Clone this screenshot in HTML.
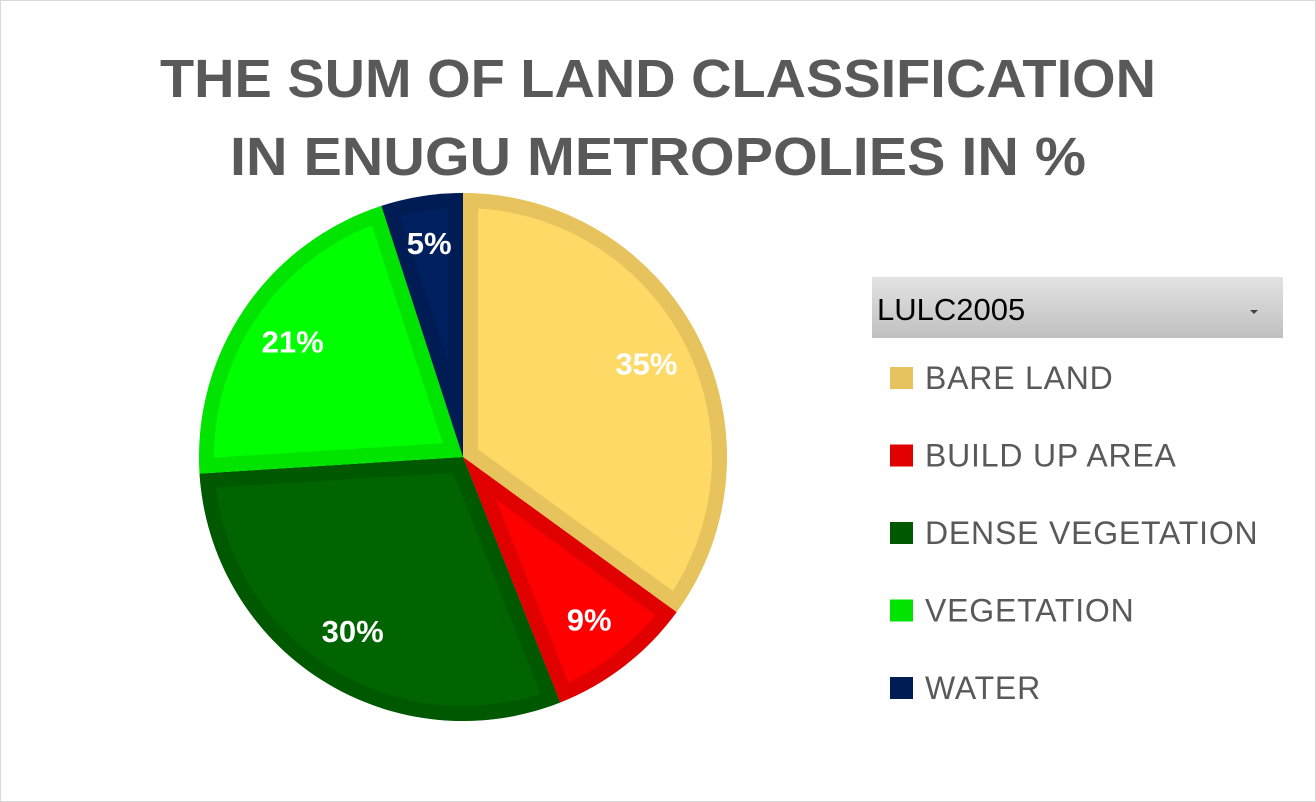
<!DOCTYPE html>
<html><head><meta charset="utf-8"><style>
html,body{margin:0;padding:0;background:#fff;}
svg{display:block;font-family:"Liberation Sans",sans-serif;}
</style></head><body>
<svg id="chart" width="1316" height="802" viewBox="0 0 1316 802">
<rect x="0.5" y="0.5" width="1315" height="801" fill="#fff" stroke="#d9d9d9"/>
<text x="658" y="97" text-anchor="middle" font-size="54" font-weight="bold" fill="#595959" textLength="996" lengthAdjust="spacingAndGlyphs">THE SUM OF LAND CLASSIFICATION</text>
<text x="658" y="175" text-anchor="middle" font-size="54" font-weight="bold" fill="#595959" textLength="856" lengthAdjust="spacingAndGlyphs">IN ENUGU METROPOLIES IN %</text>
<defs>
<linearGradient id="dd" x1="0" y1="0" x2="0" y2="1"><stop offset="0" stop-color="#e3e3e3"/><stop offset="1" stop-color="#c0c0c0"/></linearGradient>
</defs>
<g>
<rect x="872" y="277" width="411" height="61" fill="url(#dd)"/>
<text x="877" y="320" font-size="31" fill="#000">LULC2005</text>
<path d="M1250 310 L1258 310 L1254 314 Z" fill="#404040"/>
</g>
<g id="slices"></g>
<g id="labels"></g>
<g id="legend"></g>
</svg>
<script>
const categories = ["BARE LAND","BUILD UP AREA","DENSE VEGETATION","VEGETATION","WATER"];
const values = [35, 9, 30, 21, 5];
const labels = ["35%","9%","30%","21%","5%"];
const fills = ["#FFD966","#FF0000","#006400","#00FF00","#002060"];
const edges = ["#E6C35C","#E00000","#005800","#00E400","#001C55"];
const NS="http://www.w3.org/2000/svg";
const cx=463, cy=457, r=264;
const total=values.reduce((a,b)=>a+b,0);
const sg=document.getElementById('slices'), lg=document.getElementById('labels'), leg=document.getElementById('legend');
const defs=document.querySelector('defs');
function pt(a,rr){return [cx+rr*Math.sin(a), cy-rr*Math.cos(a)];}
let acc=0;
values.forEach((v,i)=>{
  const a0=acc/total*2*Math.PI; acc+=v; const a1=acc/total*2*Math.PI;
  const p0=pt(a0,r), p1=pt(a1,r);
  const d=`M${cx} ${cy} L${p0[0]} ${p0[1]} A${r} ${r} 0 ${a1-a0>Math.PI?1:0} 1 ${p1[0]} ${p1[1]} Z`;
  const cp=document.createElementNS(NS,'clipPath'); cp.setAttribute('id','c'+i);
  const cpp=document.createElementNS(NS,'path'); cpp.setAttribute('d',d); cp.appendChild(cpp); defs.appendChild(cp);
  const p=document.createElementNS(NS,'path');
  p.setAttribute('d',d); p.setAttribute('fill',fills[i]); p.setAttribute('stroke',edges[i]);
  p.setAttribute('stroke-width','30'); p.setAttribute('clip-path','url(#c'+i+')');
  
  
  sg.appendChild(p);
  const am=(a0+a1)/2; const fr=v<8?0.82:0.78; const lp=pt(am,r*fr);
  const t=document.createElementNS(NS,'text');
  t.setAttribute('x',lp[0]); t.setAttribute('y',lp[1]+11); t.setAttribute('text-anchor','middle');
  t.setAttribute('font-size','31'); t.setAttribute('font-weight','bold'); t.setAttribute('fill','#fff');
  t.textContent=labels[i];
  
  
  lg.appendChild(t);
  const y=378+i*77.5;
  const g=document.createElementNS(NS,'g');
  
  
  const s=document.createElementNS(NS,'rect');
  s.setAttribute('x',890); s.setAttribute('y',y-11); s.setAttribute('width',23); s.setAttribute('height',22); s.setAttribute('fill',edges[i]);
  const lt=document.createElementNS(NS,'text');
  lt.setAttribute('x',925); lt.setAttribute('y',y+11); lt.setAttribute('font-size','32'); lt.setAttribute('fill','#595959');
  lt.setAttribute('letter-spacing','0.8');
  lt.textContent=categories[i];
  g.appendChild(s); g.appendChild(lt); leg.appendChild(g);
});
</script>
</body></html>
